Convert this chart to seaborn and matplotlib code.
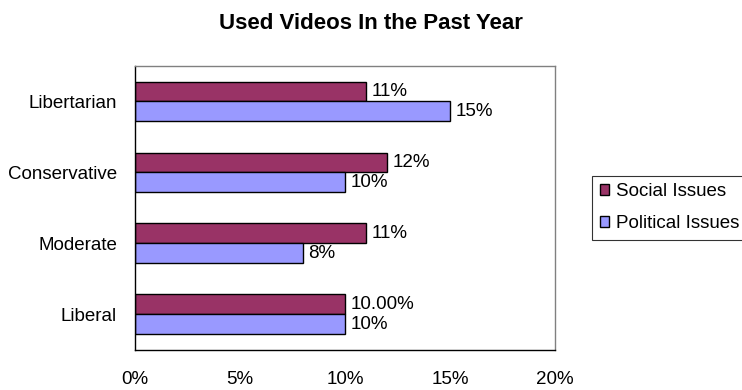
import matplotlib
matplotlib.use("Agg")
import matplotlib.pyplot as plt
import seaborn as sns
import pandas as pd
from matplotlib.patches import Patch

categories = ["Libertarian", "Conservative", "Moderate", "Liberal"]
series = ["Social Issues", "Political Issues"]
social_values = [11, 12, 11, 10]
political_values = [15, 10, 8, 10]
social_labels = ["11%", "12%", "11%", "10.00%"]
political_labels = ["15%", "10%", "8%", "10%"]
x_ticks = [0, 5, 10, 15, 20]
x_tick_labels = ["0%", "5%", "10%", "15%", "20%"]
colors = ["#993366", "#9999FF"]

df = pd.DataFrame({
    "Category": categories * 2,
    "Series": [series[0]] * 4 + [series[1]] * 4,
    "Value": social_values + political_values,
})

sns.set_style("white")
plt.rcParams["font.family"] = ["Liberation Sans", "DejaVu Sans"]
plt.rcParams["text.color"] = "black"
plt.rcParams["xtick.color"] = "black"
plt.rcParams["ytick.color"] = "black"

fs = 13.5

fig = plt.figure(figsize=(7.42, 3.9), dpi=100)
ax = fig.add_axes([0.182, 0.103, 0.566, 0.728])

sns.barplot(data=df, y="Category", x="Value", hue="Series", order=categories,
            hue_order=series, palette=colors, saturation=1, orient="h", width=0.56,
            edgecolor="black", linewidth=1, errorbar=None, legend=False, ax=ax)

for container, labels in zip(ax.containers, [social_labels, political_labels]):
    ax.bar_label(container, labels=labels, padding=4, fontsize=fs, color="black")

ax.set_xlim(0, 20)
ax.set_ylim(3.5, -0.5)
ax.set_xticks(x_ticks)
ax.set_xticklabels(x_tick_labels, fontsize=fs)
ax.set_yticks(range(len(categories)))
ax.set_yticklabels(categories, fontsize=fs)
ax.set_yticks([-0.5, 0.5, 1.5, 2.5, 3.5], minor=True)
ax.tick_params(axis="y", which="major", length=0, pad=13)
ax.tick_params(axis="y", which="minor", length=4, width=1, color="black", direction="out")
ax.tick_params(axis="x", which="major", length=4, width=1, color="black", direction="out", pad=11)
ax.set_xlabel("")
ax.set_ylabel("")

for side in ["top", "right"]:
    ax.spines[side].set_color("#808080")
    ax.spines[side].set_linewidth(1)
for side in ["left", "bottom"]:
    ax.spines[side].set_color("black")
    ax.spines[side].set_linewidth(1)

fig.suptitle("Used Videos In the Past Year", x=0.5, y=0.967, fontsize=16,
             fontweight="bold", color="black")

handles = [Patch(facecolor=c, edgecolor="black", linewidth=1) for c in colors]
leg = fig.legend(handles, series, loc="upper left", bbox_to_anchor=(0.798, 0.549),
                 fontsize=fs, frameon=True, fancybox=False, handlelength=0.5,
                 handleheight=0.5, handletextpad=0.4, borderpad=0.4,
                 labelspacing=0.8, borderaxespad=0)
leg.get_frame().set_edgecolor("black")
leg.get_frame().set_linewidth(0.8)

fig.savefig("out.png", dpi=100)
